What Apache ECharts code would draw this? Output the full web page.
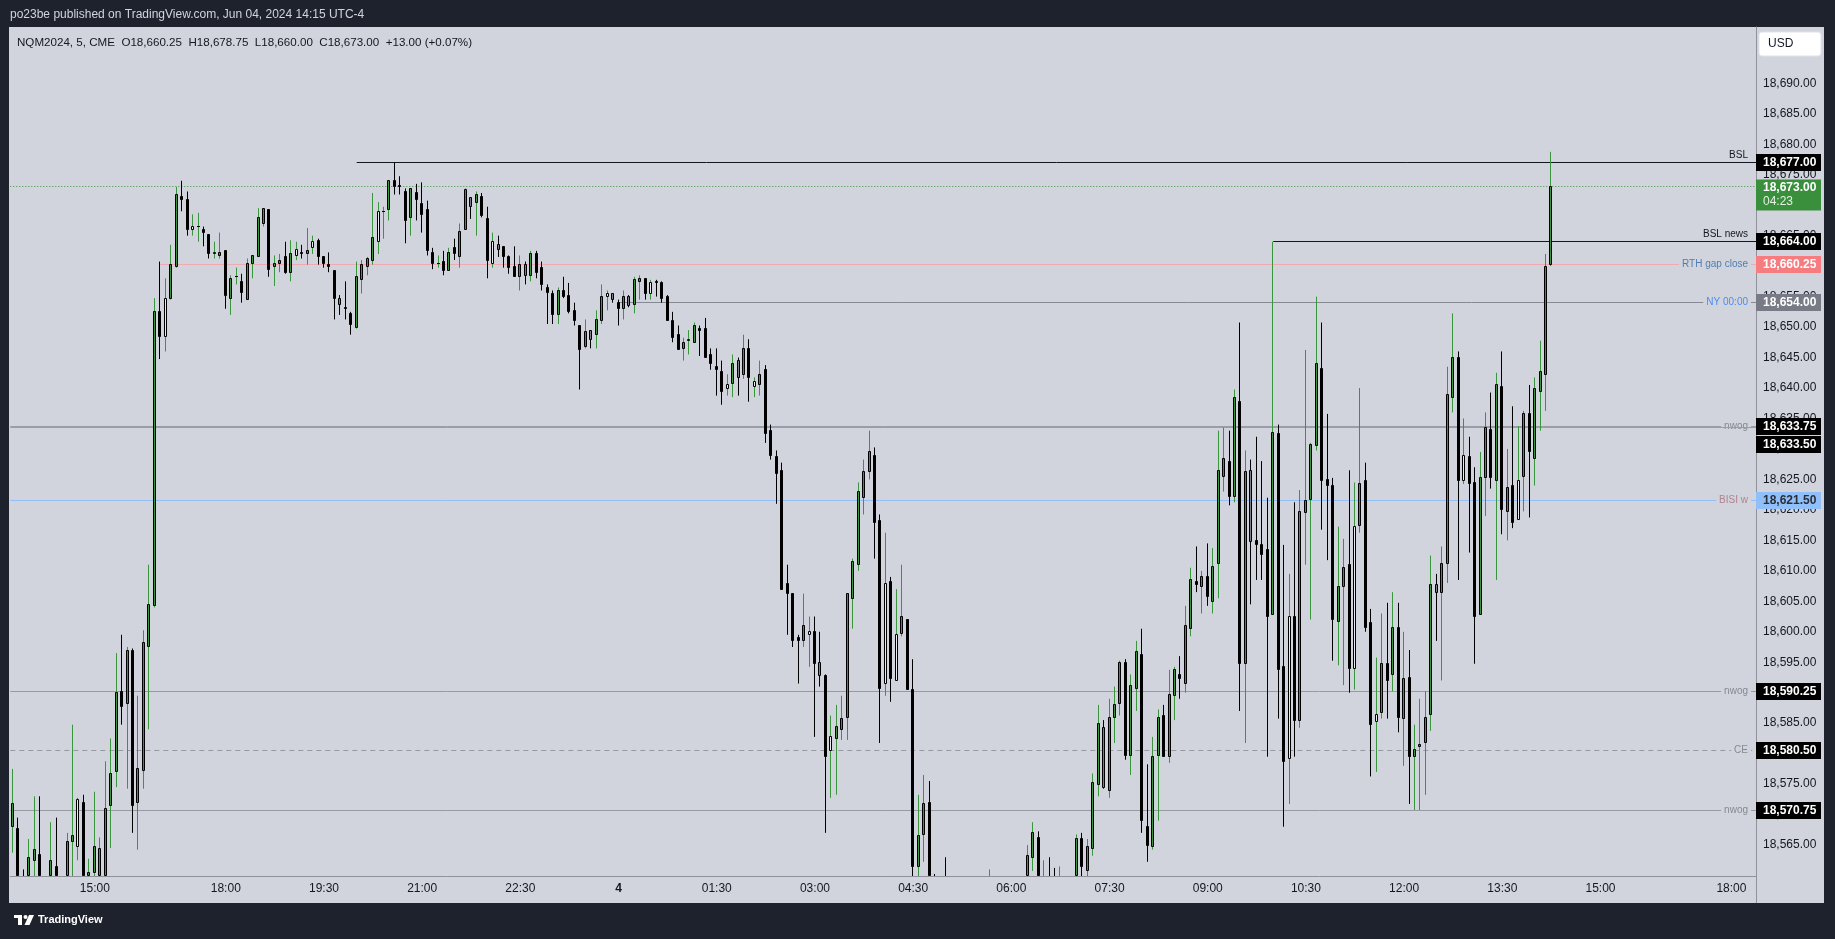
<!DOCTYPE html>
<html><head><meta charset="utf-8">
<script src="https://cdn.jsdelivr.net/npm/echarts@6/dist/echarts.min.js"></script>
<style>
html,body{margin:0;padding:0;background:#1e222d;width:1835px;height:939px;overflow:hidden;}
#panel{position:absolute;left:9px;top:27px;width:1815px;height:876px;background:#d1d4dc;}
#chart{position:absolute;left:0;top:0;width:1835px;height:939px;}
</style></head><body>
<div id="panel"></div><div id="chart"></div>
<script>
// ---------------- DATA ----------------
const symbolName = 'NQM2024', intervalLabel = '5', exchange = 'CME';
const publishedText = 'po23be published on TradingView.com, Jun 04, 2024 14:15 UTC-4';
const barTimer = '04:23';
const currency = 'USD';

const sessions = [
  ['06-03', '13:45', '16:55'],
  ['06-03', '18:00', '23:55'],
  ['06-04', '00:00', '16:55'],
  ['06-04', '18:00', '18:20']
];

const opens = [
18568.0,18567.75,18558.0,18557.0,18562.5,18563.5,18557.5,18555.5,18561.5,18557.0,
18554.0,18565.5,18564.75,18572.0,18558.5,18560.5,18560.0,18560.0,18571.5,18577.0,
18590.25,18588.25,18597.0,18572.0,18577.25,18597.5,18604.25,18652.5,18648.5,18654.75,
18660.0,18671.5,18671.0,18666.0,18666.5,18666.0,18665.25,18662.0,18661.75,18662.5,
18654.75,18658.25,18657.5,18654.5,18660.5,18661.5,18667.0,18669.25,18660.0,18660.5,
18661.5,18659.0,18661.75,18662.25,18662.0,18663.0,18664.25,18661.5,18660.25,18659.25,
18654.75,18653.25,18652.25,18650.0,18657.75,18660.0,18661.0,18664.0,18669.0,18669.25,
18674.0,18673.25,18672.25,18668.0,18672.0,18670.25,18669.25,18662.25,18660.5,18660.75,
18659.25,18663.0,18661.5,18666.0,18671.25,18670.5,18671.5,18667.75,18660.5,18663.5,
18663.25,18661.5,18660.0,18658.25,18660.25,18658.5,18662.0,18659.75,18656.5,18655.5,
18652.0,18656.0,18655.25,18652.75,18650.25,18646.75,18649.5,18648.75,18651.0,18655.0,
18655.5,18654.0,18653.0,18655.0,18653.75,18657.5,18658.0,18655.5,18657.5,18657.25,
18655.0,18651.0,18648.75,18646.5,18647.75,18647.5,18649.75,18649.75,18645.5,18643.5,
18642.75,18640.0,18640.75,18644.5,18642.25,18646.5,18640.25,18640.5,18643.0,18633.0,
18628.75,18626.5,18608.0,18606.25,18599.0,18598.5,18599.5,18600.0,18595.0,18592.75,
18580.5,18582.5,18584.0,18586.0,18605.5,18611.0,18622.0,18626.25,18629.0,18618.25,
18591.5,18608.25,18592.0,18599.75,18602.0,18590.5,18561.5,18566.75,18572.0,18557.0,
18554.0,18558.0,18553.0,18550.0,18547.0,18550.5,18553.0,18551.0,18554.5,18552.0,
18557.5,18553.0,18555.5,18552.5,18549.0,18554.0,18557.0,18563.0,18566.25,18555.5,
18558.5,18554.0,18553.0,18557.5,18552.5,18555.0,18566.0,18560.75,18564.5,18575.0,
18584.25,18574.0,18586.0,18588.25,18595.0,18579.75,18590.75,18596.25,18568.0,18564.75,
18579.75,18586.25,18579.5,18589.5,18593.0,18591.5,18600.5,18608.25,18607.5,18609.0,
18605.0,18611.25,18625.5,18628.0,18622.25,18637.75,18594.75,18626.5,18615.0,18614.25,
18613.5,18602.75,18632.5,18594.25,18579.25,18602.5,18585.5,18619.5,18621.75,18630.5,
18643.25,18625.0,18624.0,18601.75,18607.5,18611.0,18594.0,18617.5,18624.75,18601.5,
18585.25,18586.75,18594.75,18593.0,18600.75,18585.75,18592.5,18579.5,18581.25,18581.75,
18586.5,18607.75,18606.5,18611.25,18638.5,18645.0,18624.75,18628.75,18624.5,18602.75,
18625.25,18633.25,18624.75,18640.25,18619.75,18624.0,18618.5,18625.5,18635.75,18628.5,
18639.5,18642.25,18660.25];

const highs = [
18577.5,18569.5,18561.0,18566.0,18573.0,18573.0,18559.5,18568.75,18569.5,18559.0,
18567.0,18584.75,18572.75,18573.25,18562.75,18573.75,18566.25,18578.75,18582.5,18596.5,
18599.5,18597.5,18597.25,18589.5,18600.25,18611.0,18654.75,18660.75,18658.0,18663.5,
18673.0,18674.0,18672.25,18668.5,18668.75,18666.5,18665.25,18664.0,18665.5,18662.5,
18658.5,18659.75,18658.75,18661.25,18661.75,18669.5,18669.5,18669.25,18661.75,18662.0,
18664.0,18664.25,18664.0,18663.5,18666.25,18665.0,18664.5,18661.5,18662.25,18659.25,
18655.25,18657.5,18652.5,18660.75,18661.0,18661.5,18672.0,18670.5,18669.75,18674.0,
18677.0,18674.75,18672.75,18672.75,18673.5,18673.75,18670.75,18663.0,18661.75,18662.5,
18663.0,18664.5,18667.0,18672.75,18671.25,18672.25,18672.0,18669.75,18665.5,18665.0,
18663.25,18661.75,18663.25,18661.75,18660.75,18662.5,18662.5,18660.75,18657.0,18656.0,
18656.5,18658.25,18657.25,18654.0,18650.25,18651.25,18649.5,18652.75,18657.0,18656.0,
18655.5,18654.5,18656.0,18655.25,18658.25,18658.5,18658.0,18657.75,18657.75,18657.5,
18655.25,18652.5,18650.25,18648.25,18649.5,18650.75,18650.25,18651.5,18646.5,18646.5,
18644.5,18642.25,18645.5,18645.0,18648.75,18648.0,18641.75,18644.5,18643.75,18634.0,
18629.75,18627.75,18611.0,18606.25,18599.5,18606.25,18602.5,18602.5,18600.0,18593.0,
18586.25,18588.0,18589.5,18606.25,18612.0,18624.5,18628.25,18633.0,18630.25,18619.25,
18616.25,18609.0,18607.0,18611.0,18602.0,18595.5,18573.25,18576.5,18575.5,18560.25,
18558.5,18563.0,18557.5,18554.0,18552.0,18555.0,18557.0,18556.0,18558.75,18561.0,
18559.0,18557.0,18558.5,18556.0,18555.5,18559.5,18565.0,18568.75,18567.25,18562.5,
18563.0,18561.25,18561.5,18559.0,18558.5,18566.75,18567.0,18566.0,18576.75,18588.0,
18585.5,18589.0,18591.0,18595.25,18595.5,18593.0,18598.5,18600.5,18578.25,18582.75,
18587.25,18588.0,18593.75,18594.25,18596.0,18604.25,18610.5,18614.0,18610.0,18614.5,
18613.75,18633.0,18633.5,18633.0,18639.75,18650.75,18629.75,18628.25,18632.0,18628.0,
18622.0,18664.0,18634.0,18614.25,18609.5,18621.25,18623.25,18646.25,18631.0,18655.0,
18650.75,18635.75,18625.25,18617.25,18615.25,18626.5,18624.5,18640.0,18627.75,18603.75,
18595.75,18603.0,18604.75,18606.5,18604.75,18600.0,18597.0,18584.75,18589.0,18590.25,
18612.5,18609.5,18614.0,18643.5,18652.25,18646.0,18635.0,18632.0,18627.0,18629.5,
18636.0,18639.25,18642.5,18646.0,18630.0,18637.0,18633.75,18636.25,18640.5,18641.75,
18647.75,18662.0,18678.75];

const lows = [
18563.75,18554.0,18553.5,18555.5,18559.25,18556.0,18552.0,18554.0,18555.0,18551.5,
18553.0,18559.0,18562.5,18555.0,18557.0,18558.5,18558.0,18558.75,18564.5,18574.5,
18584.75,18574.25,18567.0,18564.25,18574.25,18584.0,18604.0,18644.75,18646.0,18654.5,
18659.75,18669.0,18665.0,18665.0,18664.0,18663.25,18661.25,18661.25,18661.25,18653.0,
18652.0,18657.0,18654.0,18654.5,18658.0,18661.5,18666.5,18658.25,18656.75,18659.0,
18658.75,18657.5,18661.0,18661.25,18660.25,18662.0,18660.25,18659.75,18659.0,18651.25,
18652.0,18651.25,18648.75,18649.75,18655.5,18658.5,18660.25,18662.0,18664.5,18667.5,
18671.75,18671.75,18663.75,18665.0,18667.5,18665.5,18661.75,18659.5,18659.75,18658.5,
18659.25,18661.0,18659.75,18666.0,18667.75,18665.0,18668.0,18658.0,18659.75,18661.5,
18659.75,18658.75,18658.25,18656.0,18657.0,18657.5,18658.0,18656.0,18650.5,18650.5,
18650.5,18654.75,18652.25,18650.25,18639.75,18646.5,18646.5,18646.5,18650.5,18652.75,
18654.0,18650.25,18651.25,18653.25,18652.25,18654.5,18654.5,18654.5,18655.0,18654.0,
18651.0,18647.5,18646.25,18644.5,18645.5,18647.5,18645.25,18645.0,18643.0,18638.75,
18637.25,18638.75,18638.5,18638.75,18641.5,18637.75,18638.5,18638.75,18631.0,18628.25,
18621.0,18607.0,18599.5,18597.5,18591.5,18597.5,18594.25,18582.75,18591.0,18567.0,
18572.75,18573.25,18582.25,18582.25,18600.5,18610.0,18619.25,18625.0,18612.0,18581.75,
18589.5,18588.5,18592.0,18599.25,18590.5,18556.0,18559.0,18562.25,18554.0,18552.0,
18549.0,18550.5,18548.0,18545.5,18544.0,18548.0,18549.5,18548.0,18551.0,18550.0,
18551.0,18549.0,18550.5,18547.5,18547.0,18552.0,18555.0,18560.75,18553.0,18553.5,
18552.0,18551.0,18551.5,18550.0,18549.5,18553.5,18557.5,18559.0,18563.25,18573.0,
18574.25,18572.75,18581.75,18586.25,18579.0,18576.5,18587.0,18567.0,18562.25,18564.25,
18569.0,18579.5,18578.5,18585.5,18589.0,18590.0,18599.25,18606.5,18603.0,18604.25,
18603.0,18605.5,18623.0,18620.75,18621.25,18587.0,18581.75,18604.5,18608.5,18608.5,
18579.5,18602.75,18585.75,18568.0,18571.75,18579.5,18584.25,18611.0,18602.0,18629.75,
18616.75,18611.75,18595.25,18594.5,18591.25,18590.0,18590.5,18616.25,18600.0,18576.25,
18577.0,18585.75,18585.75,18590.25,18583.5,18578.0,18571.75,18570.75,18570.75,18573.25,
18583.75,18598.5,18592.0,18608.0,18636.0,18608.5,18624.25,18613.0,18594.75,18602.75,
18619.0,18623.5,18608.5,18616.0,18615.0,18617.0,18618.5,18619.75,18618.75,18624.0,
18633.0,18636.25,18660.0];

const closes = [
18571.75,18556.5,18555.0,18563.0,18564.25,18558.0,18554.5,18562.5,18557.25,18553.5,
18565.5,18566.5,18572.5,18557.0,18560.5,18564.75,18564.5,18571.0,18576.75,18590.0,
18587.75,18597.0,18571.5,18577.5,18598.25,18604.5,18652.5,18648.5,18654.75,18660.25,
18671.75,18671.0,18666.0,18666.5,18666.5,18665.5,18662.0,18662.25,18662.25,18655.25,
18658.0,18658.25,18655.75,18660.5,18661.75,18668.0,18669.5,18659.5,18660.5,18661.0,
18659.0,18662.0,18662.75,18662.0,18662.5,18664.0,18661.5,18660.5,18660.0,18654.75,
18653.75,18653.0,18650.5,18658.25,18660.25,18661.25,18664.75,18669.0,18669.0,18674.0,
18673.0,18673.0,18667.5,18672.75,18671.0,18668.5,18662.5,18660.5,18660.5,18659.25,
18662.25,18662.0,18665.75,18672.5,18669.75,18671.75,18668.25,18661.0,18664.0,18662.75,
18661.5,18659.75,18658.25,18660.25,18658.5,18662.0,18659.0,18657.0,18655.75,18652.0,
18656.0,18655.0,18652.5,18651.0,18646.25,18649.25,18648.0,18651.25,18655.0,18655.5,
18654.5,18653.0,18655.0,18653.5,18657.75,18658.0,18655.5,18657.25,18657.25,18654.75,
18651.0,18648.25,18646.25,18647.5,18648.0,18650.25,18649.5,18645.0,18644.0,18643.0,
18639.5,18640.5,18644.0,18641.75,18646.5,18641.75,18641.0,18642.25,18632.5,18629.0,
18626.0,18607.0,18606.25,18598.5,18598.5,18601.0,18600.0,18594.75,18592.75,18579.5,
18582.75,18584.5,18585.75,18606.25,18611.5,18623.0,18626.25,18629.5,18618.0,18590.75,
18608.0,18592.25,18599.5,18602.5,18590.5,18561.5,18566.5,18571.75,18556.5,18554.0,
18551.5,18553.0,18550.0,18547.0,18550.5,18553.0,18551.0,18554.5,18552.0,18557.5,
18553.0,18555.5,18552.5,18549.0,18554.0,18557.0,18563.25,18567.0,18555.5,18558.5,
18554.0,18553.0,18557.5,18552.5,18555.0,18566.0,18561.5,18564.75,18575.25,18585.0,
18574.5,18586.0,18588.0,18595.0,18579.75,18591.25,18596.75,18569.0,18565.0,18579.5,
18586.0,18579.5,18589.75,18593.75,18592.25,18601.0,18608.5,18607.75,18609.0,18605.75,
18610.75,18626.5,18628.5,18622.25,18638.5,18594.75,18626.25,18614.75,18614.25,18612.75,
18602.5,18632.75,18593.75,18578.75,18602.5,18585.5,18619.75,18621.5,18630.75,18644.0,
18624.75,18624.0,18602.0,18607.5,18610.5,18594.0,18617.25,18624.25,18600.75,18584.75,
18586.5,18594.75,18592.0,18600.75,18586.0,18592.25,18579.5,18580.75,18581.5,18586.0,
18607.75,18606.5,18611.25,18639.0,18645.0,18624.75,18629.0,18624.25,18602.5,18625.25,
18633.5,18625.25,18640.5,18620.0,18623.75,18618.0,18624.75,18635.75,18629.5,18640.0,
18642.75,18660.0,18673.0];

// bars drawn with a pale body / a grey body in the source chart
const paleBars = [12,28,33,37,52,55,67,88,109,117,124,131,136,146,150,160,162,234,246,250,266,276];
const greyBars = [60,84,89,94,106,110,113,133,148,200,227,261];

const yTicks = [18565,18570,18575,18580,18585,18590,18595,18600,18605,18610,18615,18620,18625,
                18630,18635,18640,18645,18650,18655,18660,18665,18670,18675,18680,18685,18690];

const xTickLabels = {
  '06-03 15:00':'15:00','06-03 18:00':'18:00','06-03 19:30':'19:30','06-03 21:00':'21:00',
  '06-03 22:30':'22:30','06-04 00:00':'4','06-04 01:30':'01:30','06-04 03:00':'03:00',
  '06-04 04:30':'04:30','06-04 06:00':'06:00','06-04 07:30':'07:30','06-04 09:00':'09:00',
  '06-04 10:30':'10:30','06-04 12:00':'12:00','06-04 13:30':'13:30','06-04 15:00':'15:00',
  '06-04 18:00':'18:00'};
const dayStartLabels = ['4'];

const levelPrices = [18677, 18664, 18660.25, 18654, 18633.75, 18633.5, 18621.5, 18590.25, 18580.5, 18570.75];
const levelLabels = ['BSL', 'BSL news', 'RTH gap close', 'NY 00:00', 'nwog', '', 'BISI w', 'nwog', 'CE', 'nwog'];
const levelStartBar = [63, 231, 27, 111, -1, -1, -1, -1, -1, -1];

// ---------------- STYLE ----------------
const FONT = '"Liberation Sans", Arial, sans-serif';
const GREEN = '#3a963c', DOWN = '#000000', PALE = '#e9ebf0', GREYB = '#7c7f88';
const BG = '#d1d4dc';
const levelStyles = [
  {line:'#131722', text:'#131722', place:'above', badge:'#000000', badgeText:'#ffffff'},
  {line:'#131722', text:'#131722', place:'above', badge:'#000000', badgeText:'#ffffff'},
  {line:'#f0a9b0', text:'#4f7db3', place:'inline', badge:'#f77c80', badgeText:'#ffffff'},
  {line:'#868993', text:'#4d8cf2', place:'inline', badge:'#787b86', badgeText:'#ffffff'},
  {line:'#9a9da5', text:'#868993', place:'inline', badge:'#000000', badgeText:'#ffffff'},
  {line:'#9a9da5', text:'#868993', place:'none', badge:'#000000', badgeText:'#ffffff', badgeDy:17},
  {line:'#90bff9', text:'#b0838f', place:'inline', badge:'#90bff9', badgeText:'#2a2e39'},
  {line:'#979aa2', text:'#868993', place:'inline', badge:'#000000', badgeText:'#ffffff'},
  {line:'#979aa2', text:'#868993', place:'inline', badge:'#000000', badgeText:'#ffffff', dash:[5,4]},
  {line:'#979aa2', text:'#868993', place:'inline', badge:'#000000', badgeText:'#ffffff'},
  {line:GREEN, place:'none', badge:'#3a8f3d', badgeText:'#ffffff', dash:[1,2], timer:true}
];

// ---------------- BUILD ----------------
const categories = [];
sessions.forEach(([d, a, b]) => {
  const toM = s => (+s.slice(0,2))*60 + (+s.slice(3));
  for (let m = toM(a); m <= toM(b); m += 5) {
    categories.push(d + ' ' + String(Math.floor(m/60)).padStart(2,'0') + ':' + String(m%60).padStart(2,'0'));
  }
});
const fmt = v => v.toLocaleString('en-US', {minimumFractionDigits:2, maximumFractionDigits:2});

const candleData = opens.map((o, i) => [i, o, closes[i], lows[i], highs[i],
  paleBars.includes(i) ? 1 : (greyBars.includes(i) ? 2 : 0)]);

const last = closes.length - 1;
const levelData = levelPrices.map((p, k) => [levelStartBar[k], p, k]);
levelData.push([-1, closes[last], levelStyles.length - 1]);

const Y_MIN = 18559.92, Y_MAX = 18699.24;

function renderCandle(params, api) {
  const i = api.value(0), o = api.value(1), c = api.value(2), l = api.value(3), h = api.value(4), k = api.value(5);
  const cs = params.coordSys, top = cs.y, bot = cs.y + cs.height;
  const cx = Math.round(api.coord([i, o])[0]);
  const yo = api.coord([i, o])[1], yc = api.coord([i, c])[1], yh = api.coord([i, h])[1], yl = api.coord([i, l])[1];
  const up = c >= o;
  const wick = (k === 2 || !up) ? DOWN : GREEN;
  const fill = k === 1 ? PALE : (k === 2 ? GREYB : (up ? GREEN : DOWN));
  const ch = [];
  const wy1 = Math.max(yh, top), wy2 = Math.min(yl, bot);
  if (wy2 > wy1) ch.push({type:'line', shape:{x1:cx-0.5, y1:wy1, x2:cx-0.5, y2:wy2}, style:{stroke:wick, lineWidth:1}});
  let bt = Math.floor(Math.min(yo, yc)) + 0.5, bb = Math.floor(Math.max(yo, yc)) + 0.5;
  if (bt < bot) {
    bt = Math.max(bt, top + 0.5); bb = Math.min(bb, bot - 0.5);
    if (bb - bt < 1) {
      ch.push({type:'line', shape:{x1:cx-2, y1:bt, x2:cx+1, y2:bt}, style:{stroke:'#000', lineWidth:1}});
    } else {
      ch.push({type:'rect', shape:{x:cx-1.5, y:bt, width:2, height:bb-bt}, style:{fill:fill, stroke:'#000', lineWidth:1}});
    }
  }
  return {type:'group', children:ch};
}

function renderLevel(params, api) {
  const start = api.value(0), price = api.value(1), k = api.value(2);
  const st = levelStyles[k];
  const cs = params.coordSys, right = cs.x + cs.width;
  const y = Math.floor(api.coord([0, price])[1]) + 0.5;
  const x1 = start >= 0 ? api.coord([start, price])[0] : cs.x;
  const ch = [{type:'line', shape:{x1:x1, y1:y, x2:right, y2:y},
    style:{stroke:st.line, lineWidth:1, lineDash: st.dash || null}}];
  const label = k < levelLabels.length ? levelLabels[k] : '';
  if (label && st.place === 'above') {
    ch.push({type:'text', x:right-8, y:y-2, style:{text:label, fill:st.text, font:'10px ' + FONT, align:'right', verticalAlign:'bottom'}});
  } else if (label && st.place === 'inline') {
    ch.push({type:'text', x:right-5, y:y, style:{text:label, fill:st.text, font:'10px ' + FONT, align:'right', verticalAlign:'middle', backgroundColor:BG, padding:[2,3,2,3]}});
  }
  const bx = right;
  if (st.timer) {
    ch.push({type:'rect', shape:{x:bx, y:y-7, width:65, height:31}, style:{fill:st.badge}});
    ch.push({type:'text', x:bx+7, y:y+1, style:{text:fmt(price), fill:st.badgeText, font:'bold 12px ' + FONT, verticalAlign:'middle'}});
    ch.push({type:'text', x:bx+7, y:y+15, style:{text:barTimer, fill:'#e3f2e3', font:'12px ' + FONT, verticalAlign:'middle'}});
  } else {
    const by = y + (st.badgeDy || 0);
    ch.push({type:'rect', shape:{x:bx, y:by-8.5, width:65, height:17}, style:{fill:st.badge}});
    ch.push({type:'text', x:bx+7, y:by, style:{text:fmt(price), fill:st.badgeText, font:'bold 12px ' + FONT, verticalAlign:'middle'}});
  }
  return {type:'group', children:ch};
}

const chg = closes[last] - closes[last-1];
const sgn = chg >= 0 ? '+' : '';
const legendText = `${symbolName}, ${intervalLabel}, ${exchange}  O${fmt(opens[last])}  H${fmt(highs[last])}  L${fmt(lows[last])}  C${fmt(closes[last])}  ${sgn}${chg.toFixed(2)} (${sgn}${(chg/closes[last-1]*100).toFixed(2)}%)`;

const chart = echarts.init(document.getElementById('chart'), null, {renderer:'canvas'});
chart.setOption({
  animation: false,
  backgroundColor: 'transparent',
  grid: {left: 10.3, right: 79, top: 27, bottom: 63, containLabel: false, outerBoundsMode: 'none'},
  xAxis: {
    type: 'category', data: categories, boundaryGap: true,
    axisLine: {show: true, lineStyle: {color: '#8f929b', width: 1}},
    axisTick: {show: false}, splitLine: {show: false},
    axisLabel: {
      interval: (idx, val) => xTickLabels[val] !== undefined,
      formatter: val => { const t = xTickLabels[val]; return dayStartLabels.includes(t) ? '{d|' + t + '}' : t; },
      color: '#131722', fontSize: 12, fontFamily: FONT, margin: 7,
      rich: {d: {fontWeight: 'bold', fontSize: 12, fontFamily: FONT, color: '#131722'}}
    }
  },
  yAxis: {
    type: 'value', position: 'right', min: Y_MIN, max: Y_MAX, scale: true,
    axisLine: {show: true, lineStyle: {color: '#8f929b', width: 1}},
    axisTick: {show: false}, splitLine: {show: false},
    axisLabel: {customValues: yTicks, formatter: v => fmt(v), color: '#131722', fontSize: 12, fontFamily: FONT, margin: 7}
  },
  series: [
    {type: 'custom', name: 'levels', renderItem: renderLevel, data: levelData, encode: {x: 0, y: 1}, silent: true, clip: false, z: 3},
    {type: 'custom', name: 'NQM2024', renderItem: renderCandle, data: candleData, encode: {x: 0, y: [1,2,3,4]}, silent: true, clip: false, z: 4}
  ],
  graphic: [
    {type:'text', x:10, y:15, style:{text:publishedText, fill:'#d1d4dc', font:'12px ' + FONT, verticalAlign:'middle'}},
    {type:'text', x:17, y:43, style:{text:legendText, fill:'#131722', font:'11.6px ' + FONT, verticalAlign:'middle'}},
    {type:'rect', shape:{x:1759, y:32, width:62, height:24, r:3}, style:{fill:'#ffffff', stroke:'#e0e3eb'}},
    {type:'text', x:1768, y:44, style:{text:currency, fill:'#131722', font:'12px ' + FONT, verticalAlign:'middle'}},
    {type:'line', shape:{x1:1756.5, y1:876, x2:1756.5, y2:903}, style:{stroke:'#8f929b', lineWidth:1}},
    {type:'rect', shape:{x:14, y:915, width:8, height:3}, style:{fill:'#ffffff'}},
    {type:'rect', shape:{x:18, y:915, width:4, height:10}, style:{fill:'#ffffff'}},
    {type:'circle', shape:{cx:25.5, cy:917, r:2}, style:{fill:'#ffffff'}},
    {type:'polygon', shape:{points:[[29,915],[34,915],[29.5,925],[24.5,925]]}, style:{fill:'#ffffff'}},
    {type:'text', x:38, y:920, style:{text:'TradingView', fill:'#ffffff', font:'bold 11px ' + FONT, verticalAlign:'middle'}}
  ]
});
</script>
</body></html>
